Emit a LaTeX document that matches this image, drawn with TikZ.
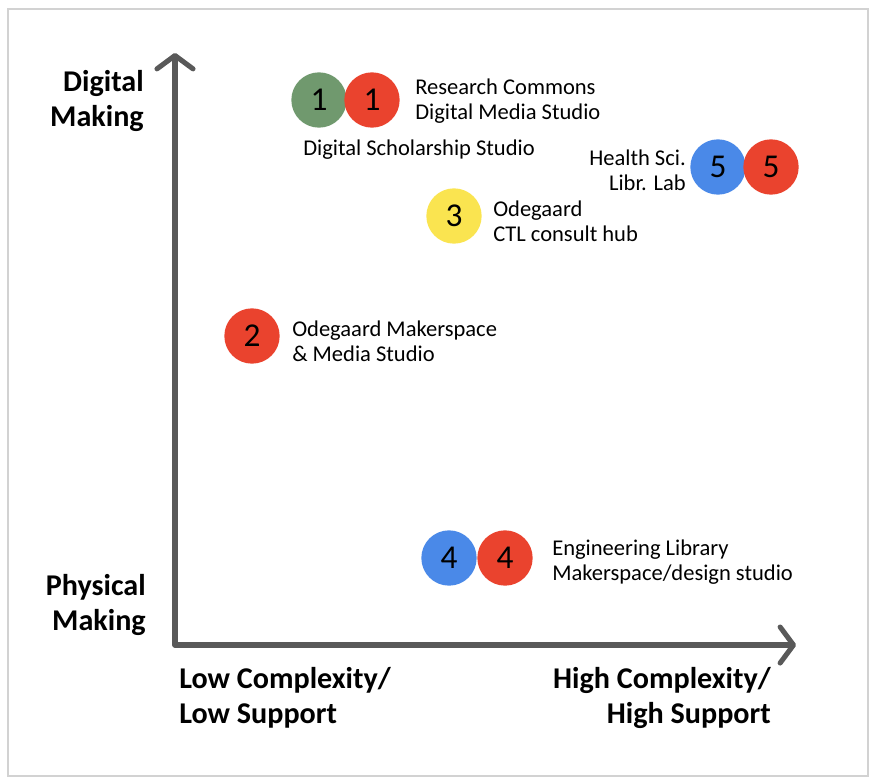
\documentclass[tikz,border=0pt]{standalone}
\usepackage{fontspec}
\setmainfont{Carlito}
\usetikzlibrary{arrows.meta}
\definecolor{axisgray}{RGB}{89,89,89}
\definecolor{cgreen}{RGB}{112,153,110}
\definecolor{cred}{RGB}{234,67,46}
\definecolor{cblue}{RGB}{74,137,232}
\definecolor{cyellow}{RGB}{250,228,80}
\tikzset{
  dot/.style={circle, minimum size=41.5pt, inner sep=0pt, font=\fontsize{25}{28}\selectfont},
  lbl/.style={inner sep=0pt, font=\fontsize{16.9}{18.8}\selectfont},
  axlbl/.style={inner sep=0pt, font=\fontsize{22.6}{26}\selectfont\bfseries},
  axisline/.style={line width=3.8pt, draw=axisgray, line cap=round, line join=round,
    arrows={Straight Barb[length=10pt,width=27pt,round]-Straight Barb[length=10pt,width=27pt,round]}}
}
\begin{document}
\begin{tikzpicture}[x=0.75pt,y=-0.75pt]
\useasboundingbox (0,0) rectangle (870,778);
\draw[gray!35, line width=1pt] (8,9) rectangle (868,776);

\coordinate (O) at (175,645);
\coordinate (ytip) at (175,53);
\coordinate (xtip) at (796,645);
\draw[axisline] (ytip) -- (O) -- (xtip);

% axis labels
\node[axlbl, align=right, anchor=east] (dm) at (144,101) {Digital\\Making};
\node[axlbl, align=right, anchor=east] (pm) at (146,605) {Physical\\Making};
\node[axlbl, align=left, anchor=west] (low) at (179,698) {Low Complexity/\\Low Support};
\node[axlbl, align=right, anchor=east] (high) at (771,698) {High Complexity/\\High Support};

% 1
\node[dot, fill=cgreen] (g1) at (319,100) {1};
\node[dot, fill=cred] (r1) at (372,100) {1};
\node[lbl, align=left, anchor=west] (t1) at (415,101) {Research Commons\\Digital Media Studio};
\node[lbl, anchor=west] (t1b) at (303,150) {Digital Scholarship Studio};

% 5
\node[dot, fill=cblue] (b5) at (718,167) {5};
\node[dot, fill=cred] (r5) at (771,167) {5};
\node[lbl, align=right, anchor=east] (t5) at (686,170) {Health Sci.\\Libr. Lab};

% 3
\node[dot, fill=cyellow] (y3) at (454,216) {3};
\node[lbl, align=left, anchor=west] (t3) at (493,221) {Odegaard\\CTL consult hub};

% 2
\node[dot, fill=cred] (r2) at (252,336) {2};
\node[lbl, align=left, anchor=west] (t2) at (292,341) {Odegaard Makerspace\\\& Media Studio};

% 4
\node[dot, fill=cblue] (b4) at (449,558) {4};
\node[dot, fill=cred] (r4) at (505,558) {4};
\node[lbl, align=left, anchor=west] (t4) at (552,562) {Engineering Library\\Makerspace/design studio};
\end{tikzpicture}
\end{document}
